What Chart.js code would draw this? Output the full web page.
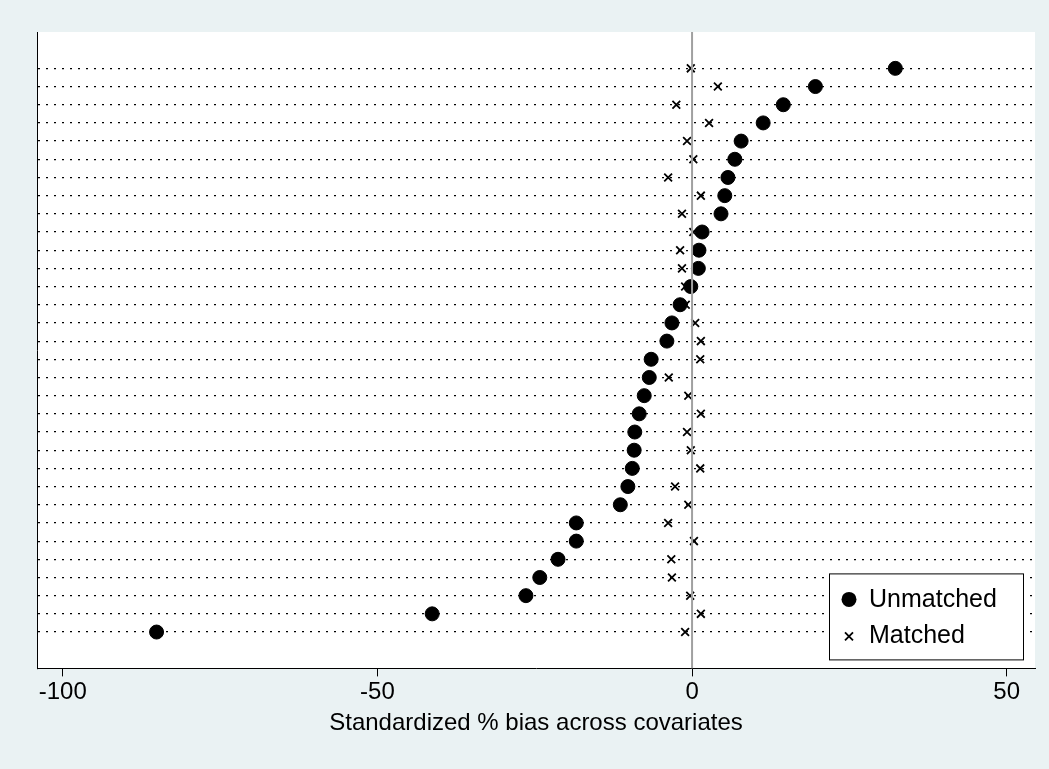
<!DOCTYPE html>
<html><head><meta charset="utf-8">
<script src="https://cdn.jsdelivr.net/npm/chart.js@4"></script>
<style>
html,body{margin:0;padding:0;background:#eaf2f3;}
#wrap{width:1049px;height:769px;}
</style></head>
<body><div id="wrap"><canvas id="c"></canvas></div>
<script>
const rows = Array.from({length: 32}, (_, i) => i + 1);
const unmatched = [32.3, 19.6, 14.5, 11.3, 7.8, 6.8, 5.7, 5.2, 4.6, 1.6, 1.1, 1.0, -0.2, -1.9, -3.2, -4.0,
  -6.5, -6.8, -7.6, -8.4, -9.1, -9.2, -9.5, -10.2, -11.4, -18.4, -18.4, -21.3, -24.2, -26.4, -41.3, -85.1];
const matched = [-0.2, 4.1, -2.5, 2.7, -0.8, 0.2, -3.8, 1.4, -1.6, 0.2, -1.9, -1.6, -1.1, -1.0, 0.5, 1.4,
  1.3, -3.7, -0.6, 1.4, -0.8, -0.2, 1.3, -2.7, -0.6, -3.8, 0.3, -3.3, -3.2, -0.3, 1.4, -1.1];
const xTicks = [-100, -50, 0, 50];
const FONT = '"Liberation Sans", Arial, sans-serif';

const bgPlugin = {
  id: 'bg',
  beforeDraw(chart) {
    const {ctx, chartArea: a} = chart;
    ctx.save();
    ctx.fillStyle = '#ffffff';
    ctx.fillRect(a.left, a.top, a.right - a.left, a.bottom - a.top);
    ctx.restore();
  },
  afterDraw(chart) {
    const {ctx, chartArea: a} = chart;
    const x = a.right - 206, y = a.bottom - 95, w = 194, h = 86;
    ctx.save();
    ctx.fillStyle = '#fff';
    ctx.fillRect(x, y, w, h);
    ctx.strokeStyle = '#000';
    ctx.lineWidth = 1;
    ctx.strokeRect(x + 0.5, y + 0.5, w, h);
    ctx.fillStyle = '#000';
    ctx.beginPath();
    ctx.arc(x + 20, y + 26, 7.5, 0, Math.PI * 2);
    ctx.fill();
    ctx.lineWidth = 1.8;
    ctx.beginPath();
    ctx.moveTo(x + 16, y + 59); ctx.lineTo(x + 24, y + 67);
    ctx.moveTo(x + 24, y + 59); ctx.lineTo(x + 16, y + 67);
    ctx.stroke();
    ctx.font = '25px ' + FONT;
    ctx.textBaseline = 'middle';
    ctx.fillText('Unmatched', x + 40, y + 27);
    ctx.fillText('Matched', x + 40, y + 63);
    ctx.restore();
  }
};

new Chart('c', {
  type: 'scatter',
  data: {
    datasets: [
      {
        label: 'zero',
        type: 'line',
        data: [{x: 0, y: -1}, {x: 0, y: 34}],
        borderColor: '#a0a0a0',
        borderWidth: 2,
        pointRadius: 0
      },
      {
        label: 'Unmatched',
        data: rows.map((r, i) => ({x: unmatched[i], y: r})),
        backgroundColor: '#000',
        borderColor: '#000',
        pointRadius: 7
      },
      {
        label: 'Matched',
        data: rows.map((r, i) => ({x: matched[i], y: r})),
        pointStyle: 'crossRot',
        borderColor: '#000',
        borderWidth: 1.8,
        pointRadius: 5.5
      }
    ]
  },
  options: {
    responsive: true,
    maintainAspectRatio: false,
    animation: false,
    layout: {padding: {left: 37, top: 32, right: 14, bottom: 31}},
    scales: {
      x: {
        type: 'linear',
        min: -104.1,
        max: 54.5,
        afterBuildTicks: s => { s.ticks = xTicks.map(v => ({value: v})); },
        grid: {drawOnChartArea: false, drawTicks: true, tickLength: 8, color: '#000'},
        border: {display: true, color: '#000', width: 1},
        ticks: {color: '#000', font: {family: FONT, size: 24}, padding: 2},
        title: {display: true, text: 'Standardized % bias across covariates', color: '#000',
          font: {family: FONT, size: 24}, padding: {top: 0, bottom: 0}}
      },
      y: {
        type: 'linear',
        min: -1,
        max: 34,
        reverse: true,
        afterBuildTicks: s => { s.ticks = rows.map(v => ({value: v})); },
        ticks: {display: false},
        grid: {drawTicks: false, color: '#000', lineWidth: 1.2},
        border: {display: true, color: '#000', width: 1, dash: [2, 6]}
      }
    },
    plugins: {legend: {display: false}, tooltip: {enabled: false}}
  },
  plugins: [bgPlugin]
});
</script>
</body></html>
